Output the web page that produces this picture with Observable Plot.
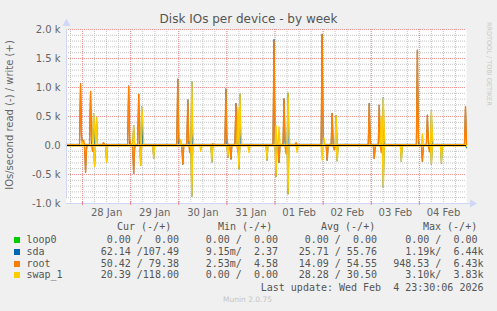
<!DOCTYPE html>
<html><head><meta charset="utf-8">
<script src="https://cdn.jsdelivr.net/npm/d3@7"></script>
<script src="https://cdn.jsdelivr.net/npm/@observablehq/plot@0.6"></script>
<style>
html,body{margin:0;padding:0;background:#f0f0f0;}
#wrap{position:relative;width:497px;height:311px;overflow:hidden;background:#f0f0f0;font-family:"DejaVu Sans";color:#666;}
#wrap svg{position:absolute;left:0;top:0;}
.t{position:absolute;white-space:pre;line-height:10px;height:10px;}
.mono{font-family:"DejaVu Sans Mono";font-size:10px;color:#555;}
.sq{position:absolute;width:6px;height:6px;}
</style></head><body><div id="wrap"></div>
<script>
// ---------- data ----------
const title = "Disk IOs per device - by week";
const yLabel = "IOs/second read (-) / write (+)";
const sideText = "RRDTOOL / TOBI OETIKER";
const footer = "Munin 2.0.75";
const lastUpdate = "Last update: Wed Feb  4 23:30:06 2026";

const timeStart = "2026-01-27T16:00Z";
const timeEnd = "2026-02-04T23:30Z";

const seriesNames = ["loop0", "sda", "root", "swap_1"];
const seriesColors = ["#00CC00", "#0066B3", "#FF8000", "#FFCC00"];
const baseWrite = [0, 20, 15, 0];
const baseRead = [0, 0, 0, 0];

const yTicks = [2000, 1500, 1000, 500, 0, -500, -1000];
const yTickLabels = ["2.0 k", "1.5 k", "1.0 k", "0.5 k", "0.0", "-0.5 k", "-1.0 k"];
const xTickLabels = ["28 Jan", "29 Jan", "30 Jan", "31 Jan", "01 Feb", "02 Feb", "03 Feb", "04 Feb"];

const loop0Write = [];
const loop0Read = [];

const sdaWrite = [
  ["2026-01-27T23:00Z",1070],["2026-01-27T23:30Z",180],["2026-01-28T04:00Z",940],["2026-01-28T05:30Z",560],["2026-01-28T07:00Z",490],
  ["2026-01-28T23:00Z",1030],["2026-01-29T01:30Z",350],["2026-01-29T04:00Z",890],["2026-01-29T05:30Z",670],
  ["2026-01-29T23:30Z",1150],["2026-01-30T04:30Z",790],["2026-01-30T06:30Z",1100],
  ["2026-01-30T23:30Z",980],["2026-01-31T04:30Z",730],["2026-01-31T06:30Z",890],
  ["2026-01-31T23:30Z",1830],["2026-02-01T04:30Z",810],["2026-02-01T06:30Z",910],
  ["2026-02-01T23:30Z",1920],["2026-02-02T04:30Z",560],["2026-02-02T06:30Z",520],
  ["2026-02-02T23:00Z",730],["2026-02-03T04:00Z",700],["2026-02-03T06:00Z",830],
  ["2026-02-03T23:00Z",1650],["2026-02-04T04:00Z",530],["2026-02-04T06:00Z",600],
  ["2026-02-04T23:00Z",680]
];
const sdaRead = [
  ["2026-01-28T01:30Z",-470],["2026-01-28T06:00Z",-370],["2026-01-28T12:00Z",-300],
  ["2026-01-29T01:30Z",-490],["2026-01-29T05:00Z",-350],["2026-01-29T11:30Z",-230],
  ["2026-01-30T02:00Z",-330],["2026-01-30T06:30Z",-880],["2026-01-30T16:30Z",-290],
  ["2026-01-31T00:30Z",-210],["2026-01-31T02:00Z",-240],["2026-01-31T06:00Z",-410],["2026-01-31T20:00Z",-260],
  ["2026-02-01T00:30Z",-540],["2026-02-01T02:00Z",-300],["2026-02-01T06:30Z",-840],
  ["2026-02-02T02:00Z",-260],["2026-02-02T07:00Z",-270],
  ["2026-02-03T01:30Z",-230],["2026-02-03T06:00Z",-730],["2026-02-03T15:00Z",-280],
  ["2026-02-04T01:30Z",-280],["2026-02-04T06:00Z",-330],["2026-02-04T11:00Z",-310],["2026-02-04T23:30Z",-40]
];
const rootWrite = [
  ["2026-01-27T23:00Z",1060],["2026-01-27T23:30Z",160],["2026-01-28T00:30Z",90],["2026-01-28T04:00Z",930],["2026-01-28T04:30Z",120],["2026-01-28T10:30Z",50],
  ["2026-01-28T23:00Z",1020],["2026-01-28T23:30Z",120],["2026-01-29T04:00Z",880],["2026-01-29T04:30Z",100],
  ["2026-01-29T23:30Z",1140],["2026-01-30T00:00Z",130],["2026-01-30T04:30Z",780],["2026-01-30T05:00Z",90],["2026-01-30T17:00Z",30],
  ["2026-01-30T23:30Z",970],["2026-01-31T00:00Z",110],["2026-01-31T04:30Z",720],["2026-01-31T05:00Z",80],
  ["2026-01-31T23:30Z",1800],["2026-02-01T00:00Z",150],["2026-02-01T04:30Z",800],["2026-02-01T05:00Z",90],["2026-02-01T10:30Z",50],
  ["2026-02-01T23:30Z",1910],["2026-02-02T00:00Z",120],["2026-02-02T04:30Z",550],["2026-02-02T11:00Z",20],
  ["2026-02-02T23:00Z",720],["2026-02-02T23:30Z",90],["2026-02-03T04:00Z",690],["2026-02-03T04:30Z",90],
  ["2026-02-03T23:00Z",1640],["2026-02-03T23:30Z",140],["2026-02-04T04:00Z",520],["2026-02-04T04:30Z",70],
  ["2026-02-04T23:00Z",670]
];
const rootRead = [
  ["2026-01-28T01:30Z",-460],["2026-01-28T02:00Z",-60],["2026-01-28T05:00Z",-100],
  ["2026-01-29T01:30Z",-480],["2026-01-29T02:00Z",-50],["2026-01-29T05:00Z",-90],
  ["2026-01-30T02:00Z",-320],["2026-01-30T05:30Z",-120],
  ["2026-01-31T02:00Z",-230],["2026-01-31T05:30Z",-110],
  ["2026-02-01T02:00Z",-290],["2026-02-01T05:30Z",-140],
  ["2026-02-02T02:00Z",-250],["2026-02-02T05:30Z",-80],
  ["2026-02-03T01:30Z",-220],["2026-02-03T05:00Z",-120],
  ["2026-02-04T01:30Z",-270],["2026-02-04T05:00Z",-110]
];
const swapWrite = [
  ["2026-01-28T00:00Z",60],["2026-01-28T05:30Z",550],["2026-01-28T06:00Z",300],["2026-01-28T07:00Z",480],
  ["2026-01-29T01:30Z",340],["2026-01-29T05:30Z",660],["2026-01-29T06:00Z",450],
  ["2026-01-30T01:00Z",100],["2026-01-30T06:30Z",1090],["2026-01-30T07:00Z",200],
  ["2026-01-31T05:30Z",660],["2026-01-31T06:30Z",880],["2026-01-31T07:00Z",200],
  ["2026-02-01T00:30Z",340],["2026-02-01T02:00Z",320],["2026-02-01T06:30Z",900],["2026-02-01T07:00Z",180],
  ["2026-02-02T00:30Z",120],["2026-02-02T06:30Z",510],
  ["2026-02-03T05:00Z",500],["2026-02-03T06:00Z",820],["2026-02-03T06:30Z",200],
  ["2026-02-04T01:30Z",200],["2026-02-04T06:00Z",590],["2026-02-04T06:30Z",150]
];
const swapRead = [
  ["2026-01-28T06:00Z",-360],["2026-01-28T12:00Z",-290],
  ["2026-01-29T05:00Z",-340],["2026-01-29T11:30Z",-220],
  ["2026-01-30T06:30Z",-870],["2026-01-30T11:00Z",-100],["2026-01-30T16:30Z",-280],
  ["2026-01-31T00:30Z",-200],["2026-01-31T06:00Z",-400],["2026-01-31T11:00Z",-120],["2026-01-31T20:00Z",-250],
  ["2026-02-01T00:30Z",-530],["2026-02-01T06:30Z",-830],["2026-02-01T11:00Z",-120],
  ["2026-02-01T23:30Z",-250],["2026-02-02T07:00Z",-260],
  ["2026-02-03T06:00Z",-720],["2026-02-03T15:00Z",-270],
  ["2026-02-04T06:00Z",-320],["2026-02-04T11:00Z",-300]
];

const legendCur = ["  0.00 /  0.00 ", " 62.14 /107.49 ", " 50.42 / 79.38 ", " 20.39 /118.00 "];
const legendMin = ["  0.00 /  0.00 ", "  9.15m/  2.37 ", "  2.53m/  4.58 ", "  0.00 /  0.00 "];
const legendAvg = ["  0.00 /  0.00 ", " 25.71 / 55.76 ", " 14.09 / 54.55 ", " 28.28 / 30.50 "];
const legendMax = ["  0.00 /  0.00 ", "  1.19k/  6.44k", "948.53 /  6.43k", "  3.10k/  3.83k"];
const legendHeaders = ["Cur (-/+)", "Min (-/+)", "Avg (-/+)", "Max (-/+)"];

// ---------- build ----------
const t0 = new Date(timeStart), t1 = new Date(timeEnd);
const grid = d3.utcMinute.every(30).range(t0, new Date(+t1 + 1));
const spikeSets = [[loop0Write, loop0Read],[sdaWrite, sdaRead],[rootWrite, rootRead],[swapWrite, swapRead]];
function buildSeries(i) {
  const out = [];
  [[0, baseWrite[i]], [1, baseRead[i]]].forEach(([dir, base]) => {
    const m = new Map(spikeSets[i][dir].map(([t, v]) => [+new Date(t), v]));
    grid.forEach(t => out.push({t, v: m.has(+t) ? m.get(+t) : base, key: seriesNames[i] + dir}));
  });
  return out;
}
const strokeWidths = [1, 1, 1.4, 1.4];
const lineMarks = seriesNames.map((name, i) =>
  Plot.line(buildSeries(i), {x: "t", y: "v", z: "key", stroke: seriesColors[i], strokeWidth: strokeWidths[i], curve: "linear"}));

const noons = d3.utcDay.range(d3.utcDay.ceil(t0), t1).map(d => d3.utcHour.offset(d, 12));
const midnights = d3.utcDay.range(d3.utcDay.ceil(t0), t1);
const sixHours = d3.utcHour.every(6).range(t0, t1);
const axisColor = "#CFD6F8";

const chart = Plot.plot({
  width: 497, height: 222,
  marginLeft: 66, marginRight: 31, marginTop: 29, marginBottom: 19,
  x: {type: "utc", domain: [t0, t1], label: null},
  y: {type: "linear", domain: [-1000, 2000], label: null},
  style: {background: "transparent", fontFamily: "DejaVu Sans", fontSize: "10px", color: "#666", overflow: "visible"},
  marks: [
    Plot.frame({fill: "white", stroke: null}),
    Plot.gridY({ticks: d3.range(-1000, 2001, 100), stroke: "#c4c4c4", strokeOpacity: 1, strokeDasharray: "1,1"}),
    Plot.gridX({ticks: sixHours, stroke: "#c4c4c4", strokeOpacity: 1, strokeDasharray: "1,1"}),
    Plot.gridY({ticks: yTicks, stroke: "#f09090", strokeOpacity: 1, strokeDasharray: "1,1"}),
    Plot.gridX({ticks: midnights, stroke: "#f09090", strokeOpacity: 1, strokeDasharray: "1,1"}),
    ...lineMarks,
    Plot.ruleY([0], {stroke: "black", strokeWidth: 1}),
    Plot.ruleX([t0], {y1: () => -1000, y2: () => 2000, stroke: axisColor, insetTop: -6}),
    Plot.ruleY([-1000], {x1: () => t0, x2: () => t1, stroke: axisColor, insetRight: -5}),
    Plot.dot([t0], {x: d => d, y: () => 2000, symbol: "triangle", r: 3, fill: axisColor, stroke: null, dy: -6}),
    Plot.dot([t1], {x: d => d, y: () => -1000, symbol: "triangle", rotate: 90, r: 3, fill: axisColor, stroke: null, dx: 6}),
    Plot.ruleX(midnights, {x: d => d, y1: () => -1000, y2: () => -1000, stroke: "#f08080", insetTop: -2, insetBottom: -2}),
    Plot.axisY({ticks: yTicks, tickSize: 0, tickPadding: 6, tickFormat: (d, i) => yTickLabels[i], fill: "#666", label: null}),
    Plot.axisX({ticks: noons, tickSize: 0, tickPadding: 5, tickFormat: (d, i) => xTickLabels[i], fill: "#666", label: null})
  ]
});

const wrap = document.getElementById("wrap");
wrap.appendChild(chart);

function addText(txt, cls, style) {
  const s = document.createElement("div");
  s.className = "t " + cls;
  s.textContent = txt;
  Object.assign(s.style, style);
  wrap.appendChild(s);
  return s;
}
addText(title, "", {left: "0px", width: "497px", textAlign: "center", top: "13px", fontSize: "12px", lineHeight: "12px", height: "12px", color: "#555"});
addText(yLabel, "", {left: "10px", top: "115px", fontSize: "10px", transform: "translate(-50%,-50%) rotate(-90deg)", color: "#666"});
addText(sideText, "", {left: "487px", top: "22px", fontSize: "6.5px", lineHeight: "7px", transformOrigin: "0 0", transform: "rotate(90deg) translate(0,-50%)", color: "#c8c8c8"});
addText(footer, "", {left: "223px", top: "295px", fontSize: "7.5px", color: "#c4c4c4"});

const colRight = [185, 284, 383, 483.5];
const headerLeft = [117, 218, 321, 423];
legendHeaders.forEach((h, j) => addText(h, "mono", {left: headerLeft[j] + "px", top: "222px"}));
const rowY = [240, 251.7, 263.5, 275.3];
seriesNames.forEach((name, i) => {
  const sq = document.createElement("div");
  sq.className = "sq";
  Object.assign(sq.style, {left: "14px", top: (rowY[i] - 3) + "px", background: seriesColors[i]});
  wrap.appendChild(sq);
  addText(name, "mono", {left: "26.5px", top: (rowY[i] - 5) + "px"});
  [legendCur, legendMin, legendAvg, legendMax].forEach((arr, j) => {
    addText(arr[i], "mono", {left: (colRight[j] - 200) + "px", width: "200px", textAlign: "right", top: (rowY[i] - 5) + "px"});
  });
});
addText(lastUpdate, "mono", {left: "183.5px", width: "300px", textAlign: "right", top: "282.7px"});
</script></body></html>
